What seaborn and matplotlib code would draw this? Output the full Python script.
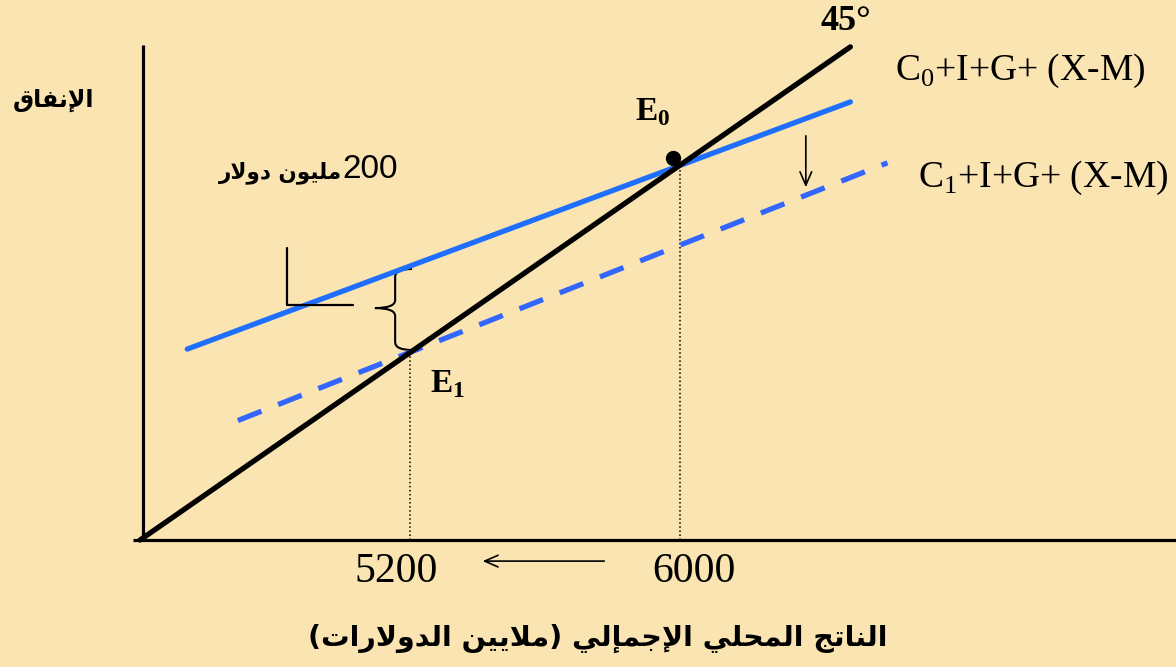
import numpy as np
import pandas as pd
import matplotlib.pyplot as plt
import seaborn as sns
from matplotlib.path import Path
from matplotlib.patches import PathPatch

# ---- data (millions of dollars) ----
gdp_eq = [5200, 6000]                      # equilibrium GDP E1, E0
line45_x = [4400, 6505]                    # 45 degree line (y = x)
c0_x = [4540, 6505]
c0_y = [5215, 6270]                        # C0+I+G+(X-M)
c1_x = [4690, 6615]
c1_y = [4910, 6010]                        # C1+I+G+(X-M)
tick_labels = ['5200', '6000']

bg = '#FAE4B2'
blue0 = '#1F6FFF'
blue1 = '#3366FF'

# ---- minimal arabic shaping (matplotlib has no bidi / joining) ----
FORMS = {
    'ا': ('\uFE8D', '\uFE8E', None, None),
    'إ': ('\uFE87', '\uFE88', None, None),
    'د': ('\uFEA9', '\uFEAA', None, None),
    'ر': ('\uFEAD', '\uFEAE', None, None),
    'و': ('\uFEED', '\uFEEE', None, None),
    'ى': ('\uFEEF', '\uFEF0', None, None),
    'ل': ('\uFEDD', '\uFEDE', '\uFEDF', '\uFEE0'),
    'ن': ('\uFEE5', '\uFEE6', '\uFEE7', '\uFEE8'),
    'ف': ('\uFED1', '\uFED2', '\uFED3', '\uFED4'),
    'ق': ('\uFED5', '\uFED6', '\uFED7', '\uFED8'),
    'م': ('\uFEE1', '\uFEE2', '\uFEE3', '\uFEE4'),
    'ي': ('\uFEF1', '\uFEF2', '\uFEF3', '\uFEF4'),
    'ت': ('\uFE95', '\uFE96', '\uFE97', '\uFE98'),
    'ج': ('\uFE9D', '\uFE9E', '\uFE9F', '\uFEA0'),
    'ح': ('\uFEA1', '\uFEA2', '\uFEA3', '\uFEA4'),
}
LAM_ALEF = {'ا': ('\uFEFB', '\uFEFC', None, None),
            'إ': ('\uFEF9', '\uFEFA', None, None)}


def shape(s):
    units = []
    i = 0
    while i < len(s):
        if s[i] == 'ل' and i + 1 < len(s) and s[i + 1] in LAM_ALEF:
            units.append(LAM_ALEF[s[i + 1]])
            i += 2
        else:
            units.append(FORMS.get(s[i], s[i]))
            i += 1
    out = []
    for k, f in enumerate(units):
        if isinstance(f, str):
            out.append(f)
            continue
        prev = units[k - 1] if k > 0 else None
        nxt = units[k + 1] if k + 1 < len(units) else None
        jp = isinstance(prev, tuple) and prev[2] is not None
        jn = f[2] is not None and isinstance(nxt, tuple)
        if jp and jn:
            out.append(f[3])
        elif jp:
            out.append(f[1])
        elif jn:
            out.append(f[2])
        else:
            out.append(f[0])
    return ''.join(out)


def rtl(s):
    mirror = {'(': ')', ')': '('}
    return ''.join(mirror.get(c, c) for c in reversed(shape(s)))


sns.set_theme(style='white')
plt.rcParams['text.color'] = 'black'
plt.rcParams['mathtext.fontset'] = 'custom'
plt.rcParams['mathtext.rm'] = 'Liberation Serif'
plt.rcParams['mathtext.bf'] = 'Liberation Serif:bold'

fig = plt.figure(figsize=(11.76, 6.67), dpi=100)
fig.patch.set_facecolor(bg)
ax = fig.add_axes([0, 0, 1, 1])
ax.set_facecolor(bg)
ax.set_xlim(3985, 7470)
ax.set_ylim(3858, 6705)
ax.axis('off')

# axes of the diagram
ax.plot([4409, 4409], [4400, 6513], color='black', lw=2.3, solid_capstyle='butt')
ax.plot([4379, 7470], [4400, 4400], color='black', lw=2.3, solid_capstyle='butt')

# dotted guides from the equilibria down to the GDP axis
ax.vlines(gdp_eq, 4400, gdp_eq, colors='black', linestyles=':', lw=1.1)

# curves
sns.lineplot(x=c0_x, y=c0_y, ax=ax, color=blue0, lw=3.8)
sns.lineplot(x=c1_x, y=c1_y, ax=ax, color=blue1, lw=3.8, linestyle=(0, (4.8, 3.4)))
sns.lineplot(x=line45_x, y=line45_x, ax=ax, color='black', lw=3.8)
ax.plot([gdp_eq[1] - 21], [gdp_eq[1] + 30], 'o', color='black', ms=10)

# shift arrows
ax.annotate('', xy=(6373, 5894), xytext=(6373, 6137),
            arrowprops=dict(arrowstyle='->,head_length=0.8,head_width=0.35', lw=1.2, color='black'))
ax.annotate('', xy=(5407, 4310), xytext=(5784, 4310),
            arrowprops=dict(arrowstyle='->,head_length=0.8,head_width=0.35', lw=1.2, color='black'))

# the L marker on C0 and the brace showing the 200 gap
ax.plot([4836, 4836, 5031], [5646, 5403, 5403], color='black', lw=1.6)
xe, xm, xp = 5206, 5156, 5096
y0, y1, ym, r = 5211, 5557, 5390, 34
verts = [(xe, y1), (xm, y1), (xm, y1 - r), (xm, ym + r), (xm, ym), (xp, ym),
         (xm, ym), (xm, ym - r), (xm, y0 + r), (xm, y0), (xe, y0)]
codes = [Path.MOVETO, Path.CURVE3, Path.CURVE3, Path.LINETO, Path.CURVE3, Path.CURVE3,
         Path.CURVE3, Path.CURVE3, Path.LINETO, Path.CURVE3, Path.CURVE3]
ax.add_patch(PathPatch(Path(verts, codes), fill=False, lw=1.5, edgecolor='black'))

# texts
serif = 'Liberation Serif'
arab = 'DejaVu Sans'
T = ax.transAxes
W, H = 1176.0, 667.0

ax.text(846 / W, 1 - 22 / H, '45°', transform=T, ha='center', va='center',
        fontsize=26, fontweight='bold', family=serif)
ax.text(895 / W, 1 - 80 / H, 'C$_0$+I+G+ (X-M)', transform=T, ha='left', va='baseline',
        fontsize=27, family=serif)
ax.text(918 / W, 1 - 187 / H, 'C$_1$+I+G+ (X-M)', transform=T, ha='left', va='baseline',
        fontsize=27, family=serif)
ax.text(635 / W, 1 - 120 / H, r'E$_\mathbf{0}$', transform=T, ha='left', va='baseline',
        fontsize=24, fontweight='bold', family=serif)
ax.text(430 / W, 1 - 392 / H, r'E$_\mathbf{1}$', transform=T, ha='left', va='baseline',
        fontsize=24, fontweight='bold', family=serif)

for xv, lab, off in zip(gdp_eq, tick_labels, [-40, 42]):
    ax.text(xv + off, 4221, lab, ha='center', va='baseline', fontsize=30, family=serif)

ax.text(398 / W, 1 - 178 / H, '200', transform=T, ha='right', va='baseline',
        fontsize=24, family='Liberation Sans')
ax.text(342 / W, 1 - 178 / H, rtl('مليون دولار'), transform=T, ha='right', va='baseline',
        fontsize=15.5, fontweight='bold', family=arab)
ax.text(54 / W, 1 - 100 / H, rtl('الإنفاق'), transform=T, ha='center', va='center',
        fontsize=17, fontweight='bold', family=arab)
ax.text(598 / W, 1 - 638 / H, rtl('الناتج المحلي الإجمإلي (ملايين الدولارات)'), transform=T,
        ha='center', va='center', fontsize=20.5, fontweight='bold', family=arab)

fig.savefig('out.png', dpi=100, facecolor=bg)
